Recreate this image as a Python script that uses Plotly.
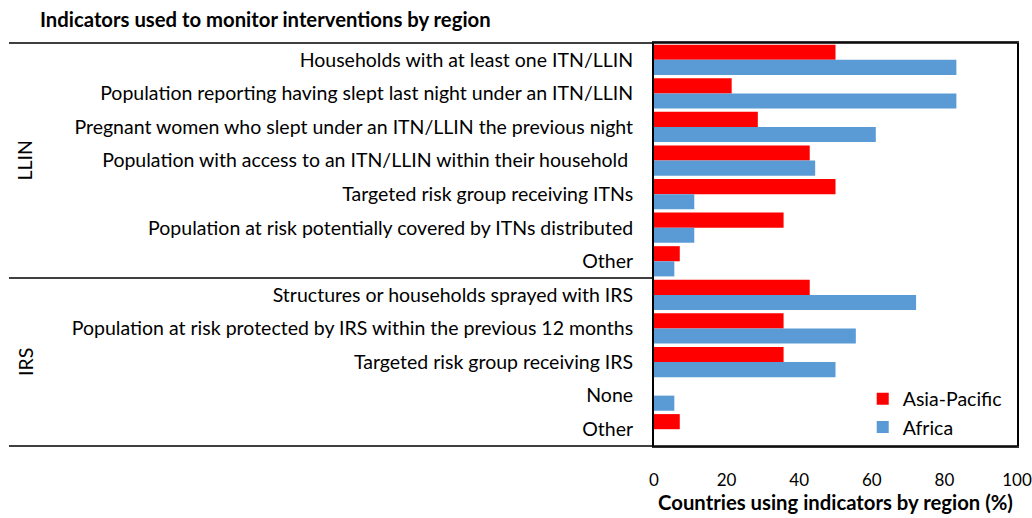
import plotly.graph_objects as go

# 13 rows: 7 LLIN indicators, then 6 IRS indicators
labels = [
    "Households with at least one ITN/LLIN",
    "Population reporting having slept last night under an ITN/LLIN",
    "Pregnant women who slept under an ITN/LLIN the previous night",
    "Population with access to an ITN/LLIN within their household ",
    "Targeted risk group receiving ITNs",
    "Population at risk potentially covered by ITNs distributed",
    "Other",
    "Structures or households sprayed with IRS",
    "Population at risk protected by IRS within the previous 12 months",
    "Targeted risk group receiving IRS",
    "None",
    "Other",
]
groups = ["LLIN"] * 7 + ["IRS"] * 5
asia_pacific = [50.0, 21.4, 28.6, 42.9, 50.0, 35.7, 7.1, 42.9, 35.7, 35.7, 0, 7.1]
africa = [83.3, 83.3, 61.1, 44.4, 11.1, 11.1, 5.6, 72.2, 55.6, 50.0, 5.6, 0]
x_ticks = [0, 20, 40, 60, 80, 100]

pos = list(range(len(labels)))
FONT = "Lato"

fig = go.Figure()
fig.add_trace(go.Bar(y=pos, x=asia_pacific, orientation="h", name="Asia-Pacific",
                     marker=dict(color="#ff0000", line=dict(width=0))))
fig.add_trace(go.Bar(y=pos, x=africa, orientation="h", name="Africa",
                     marker=dict(color="#5b9bd5", line=dict(width=0))))

fig.update_layout(
    width=1032, height=518,
    margin=dict(l=654, r=15, t=43, b=72, autoexpand=False),
    plot_bgcolor="white", paper_bgcolor="white",
    font=dict(family=FONT, size=19.5, color="#000000"),
    barmode="group", bargap=0.1, bargroupgap=0,
    title=dict(text="<b>Indicators used to monitor interventions by region</b>",
               x=40 / 1032, xanchor="left", y=1 - 20 / 518, yanchor="middle",
               font=dict(size=20.3, family=FONT)),
    legend=dict(x=0.575, y=0.165, xanchor="left", yanchor="top",
                font=dict(size=19.5), bgcolor="rgba(0,0,0,0)", tracegroupgap=0,
                itemwidth=30),
)
fig.update_yaxes(
    tickvals=pos, ticktext=labels, autorange="reversed", automargin=False,
    showline=True, linecolor="#000000", linewidth=2, mirror=True,
    ticks="", ticklabelstandoff=15, showgrid=False, zeroline=False,
)
fig.update_xaxes(
    range=[0, 100], tickvals=x_ticks, automargin=False, ticklabeloverflow="allow",
    showline=True, linecolor="#333333", linewidth=1.5, mirror=True,
    ticks="", ticklabelstandoff=18, showgrid=False, zeroline=False,
    tickfont=dict(size=17),
    title=dict(text="<b>Countries using indicators by region (%)</b>",
               font=dict(size=20.3), standoff=6),
)

# group separators and group names
left = -645 / 363
fig.add_shape(type="line", xref="paper", yref="paper", x0=left, x1=1, y0=1, y1=1,
              line=dict(color="#000000", width=1.5))
fig.add_shape(type="line", xref="paper", yref="paper", x0=left, x1=1, y0=0, y1=0,
              line=dict(color="#000000", width=1.5))
split = groups.count("LLIN") - 0.5
fig.add_shape(type="line", xref="paper", yref="y", x0=left, x1=0, y0=split, y1=split,
              line=dict(color="#000000", width=1.5))
for g in ["LLIN", "IRS"]:
    idx = [i for i, v in enumerate(groups) if v == g]
    fig.add_annotation(text=g, xref="paper", yref="y", x=-629 / 363, xanchor="center",
                       y=(idx[0] + idx[-1]) / 2, textangle=-90, showarrow=False,
                       font=dict(size=19.5))

fig.write_html("out.html", config={"displayModeBar": False},
               post_script="document.body.style.margin='0';document.body.style.overflow='hidden';")
